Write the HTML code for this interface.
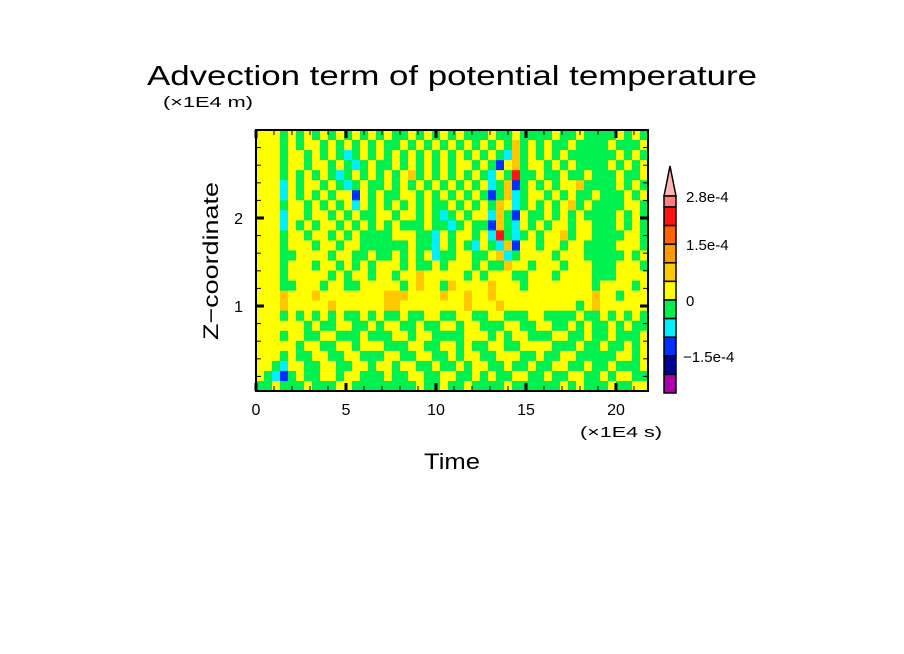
<!DOCTYPE html>
<html><head><meta charset="utf-8">
<style>
html,body{margin:0;padding:0;background:#fff;}
svg{display:block;font-family:"Liberation Sans","DejaVu Sans",sans-serif;}
</style></head>
<body>
<svg id="chart" width="904" height="654" viewBox="0 0 904 654" xmlns="http://www.w3.org/2000/svg">
<rect width="904" height="654" fill="#fff"/>
<text x="452" y="85" text-anchor="middle" font-size="28" textLength="610" lengthAdjust="spacingAndGlyphs">Advection term of potential temperature</text>
<text x="163" y="107" font-size="15" textLength="90" lengthAdjust="spacingAndGlyphs">(×1E4 m)</text>
<text transform="translate(218,261) rotate(-90)" text-anchor="middle" font-size="21" textLength="158" lengthAdjust="spacingAndGlyphs">Z−coordinate</text>
<text x="580" y="437" font-size="15" textLength="82" lengthAdjust="spacingAndGlyphs">(×1E4 s)</text>
<text x="452" y="469" text-anchor="middle" font-size="22" textLength="56" lengthAdjust="spacingAndGlyphs">Time</text>
<g id="heat"></g>
<g id="axes"></g>
<g id="cbar"></g>
</svg>
<script>
// Level categories of the field, one string per row (top to bottom), one char per column
const fieldRows = [
"yyygygy gygygyg ygyggyg ygygygg gyggygg ggyggyg gggygyg",
"yyygygy ygygygy gyggygy gygygyg ygygogy gyggygg ggygggy",
"yyygyyg ygygcgy gygygyg ygygygy gygcogy gygyggg gggygyg",
"yyygyyg yygygcg yggygyg ygygyyg ygbyogy ygygygg ggygygy",
"yyygygy gygcgyg ygygyog ygygygy gcygrgg yggyggy gggyggy",
"yyycygy ygygcgy ggygygy gygygyg ycgobgy gygyyog gggygyg",
"yyycygy gygyyby gyggyyg ygygygy gbgocgy ygygygg ygggygy",
"yyygyyg ygygycy gygygyg yggygyg ygoycgy gygyogy ggggyyg",
"yyycyyg yygygyg gyygyyg ygcgygy ycogbyg gygygyg gggygyg",
"yyycygy gyygygy gygyggg yggcgyg gbogcyg ygyygyy gggygyg",
"yyygyyg yygygyg gggyyyg gcygyyg ycrgcgy gyyogyy ggggyyg",
"yyygyyy gyygyyg gggggyg gcygygc ygcobyy gyygyyg gggyyyg",
"yyyggyy yygyygg yggygyg ycggyyg gyocgyy yygyyyg ggggygy",
"yyygyyy gyygygy gyyygyg gygyyyg yggoyyg yyygyyy gggyyyg",
"yyygyyy yygygyy gyygyyo yyyyygy gyyyggy yygyyyy gggyyyy",
"yyyggyy ygyyggy yyyygyo yygoyyy yoyyygy yyyyyyy gyyyygy",
"yyyoyyy oyyyyyy yyoooyy yyoyyoy yoyyyyy yyyyyyy oyygyyy",
"yyyoyyy yyoyyyy yyooyyy yyyyyoy yyoyyyy yyyyygy oyyyyyy",
"yyygygy gygyggy gyggygg yyggyyg gyygggy yggggyg gygygyg",
"yyyyyyg yggyygg ygyyggy ggyygyy gggyygg yyggygy ggygygg",
"yyygyyg gyygggy gggyygy yggggyy ygygyyg ggyyggy ggygggy",
"yyyyygy yggyygy yygggyy ggyygyg gyyggyy yygggyg gyggygy",
"yyygygg yyggyyg ggyyggy yggygyy ggyyygg yggyygg gggyygy",
"yygcyyg gyyggyy gyygyyg gyggygy yggyggy ggyyggy ggygggy",
"ygcbgyg gyygyyg ggyggyy ggyyggy gyggyyg gyggyyg gygyygg",
"ggygggy gggyygg ggggggy ggyggyg gggyggg gggygyg ggyggyy"
];
const levelColors = {y:"#ffff00", g:"#00f050", c:"#00f0ff", b:"#0030ff", d:"#000099", o:"#ffc800", O:"#ff9900", r:"#ff1414"};
const xRange = [0, 21.78];
const zRange = [0.034, 3.0];
const xTicksMajor = [0, 5, 10, 15, 20];
const xTickLabels = ["0", "5", "10", "15", "20"];
const yTicksMajor = [1, 2];
const yTickLabels = ["1", "2"];
const cbarColors = ["#ff7f7f","#ff1414","#ff6400","#ff9900","#ffc800","#ffff00","#00f050","#00f0ff","#0030ff","#000099","#aa00aa"];
const cbarLabels = ["2.8e-4","1.5e-4","0","−1.5e-4"];
const cbarLabelIdx = [0, 3, 6, 9];

const NS = "http://www.w3.org/2000/svg";
const PX0 = 256, PX1 = 648, PY0 = 130, PY1 = 391;
function xs(v){ return PX0 + (v - xRange[0]) / (xRange[1] - xRange[0]) * (PX1 - PX0); }
function ys(v){ return PY1 - (v - zRange[0]) / (zRange[1] - zRange[0]) * (PY1 - PY0); }
function mk(tag, attrs, parent){ const e = document.createElementNS(NS, tag); for (const k in attrs) e.setAttribute(k, attrs[k]); parent.appendChild(e); return e; }

// heatmap
const heat = document.getElementById("heat");
const gridRows = fieldRows.map(r => r.replace(/ /g, ""));
const nR = gridRows.length, nC = gridRows[0].length;
const dx = (xRange[1] - xRange[0]) / nC, dz = (zRange[1] - zRange[0]) / nR;
gridRows.forEach((row, r) => {
  for (let c = 0; c < nC; c++) {
    const x0 = xs(xRange[0] + c * dx), x1 = xs(xRange[0] + (c + 1) * dx);
    const y0 = ys(zRange[1] - r * dz), y1 = ys(zRange[1] - (r + 1) * dz);
    const el = mk("rect", {x: x0, y: y0, width: x1 - x0 + 0.3, height: y1 - y0 + 0.3, fill: levelColors[row[c]] || "#ffff00"}, heat);
    
    
  }
});

// axes
const axesG = document.getElementById("axes");
const frame = mk("rect", {x: PX0, y: PY0, width: PX1 - PX0, height: PY1 - PY0, fill: "none", stroke: "#000", "stroke-width": 2}, axesG);


for (let v = 0; v <= 21; v++) {
  const major = v % 5 === 0, L = major ? 8 : 5, w = major ? 3 : 1;
  const x = xs(v);
  const t1 = mk("line", {x1: x, x2: x, y1: PY1, y2: PY1 - L, stroke: "#000", "stroke-width": w}, axesG);
  
  
  const t2 = mk("line", {x1: x, x2: x, y1: PY0, y2: PY0 + L, stroke: "#000", "stroke-width": w}, axesG);
  
  
}
xTicksMajor.forEach((v, i) => {
  const t = mk("text", {x: xs(v), y: 415, "text-anchor": "middle", "font-size": 16}, axesG);
  t.textContent = xTickLabels[i];
  
  
});
for (let k = 1; k <= 14; k++) {
  const v = k * 0.2, major = k % 5 === 0, L = major ? 8 : 5, w = major ? 3 : 1;
  const y = ys(v);
  if (y < PY0) continue;
  const t1 = mk("line", {x1: PX0, x2: PX0 + L, y1: y, y2: y, stroke: "#000", "stroke-width": w}, axesG);
  
  
  const t2 = mk("line", {x1: PX1, x2: PX1 - L, y1: y, y2: y, stroke: "#000", "stroke-width": w}, axesG);
  
  
}
yTicksMajor.forEach((v, i) => {
  const t = mk("text", {x: 243, y: ys(v) + 6, "text-anchor": "end", "font-size": 16}, axesG);
  t.textContent = yTickLabels[i];
  
  
});

// colorbar
const cb = document.getElementById("cbar");
const CX0 = 664, CX1 = 676, CTop = 207, CBot = 393, nBoxes = cbarColors.length - 1;
const bh = (CBot - CTop) / nBoxes;
const tri = mk("polygon", {points: `${CX0},196 ${CX1},196 ${(CX0+CX1)/2},166`, fill: "#ffb4b4", stroke: "#000", "stroke-width": 1.5}, cb);


const cbTopBox = mk("rect", {x: CX0, y: 196, width: CX1 - CX0, height: CTop - 196, fill: cbarColors[0], stroke: "#000", "stroke-width": 1.5}, cb);


for (let i = 1; i < cbarColors.length; i++) {
  const r = mk("rect", {x: CX0, y: CTop + (i - 1) * bh, width: CX1 - CX0, height: bh, fill: cbarColors[i], stroke: "#000", "stroke-width": 1.5}, cb);
  
  
}
cbarLabels.forEach((lab, i) => {
  const idx = cbarLabelIdx[i];
  const y = idx === 0 ? 196 : CTop + (idx - 1) * bh;
  const t = mk("text", {x: lab.startsWith("−") ? 683 : 686, y: y + 6, "font-size": 15}, cb);
  t.textContent = lab;
  
  
});
</script>
</body></html>
